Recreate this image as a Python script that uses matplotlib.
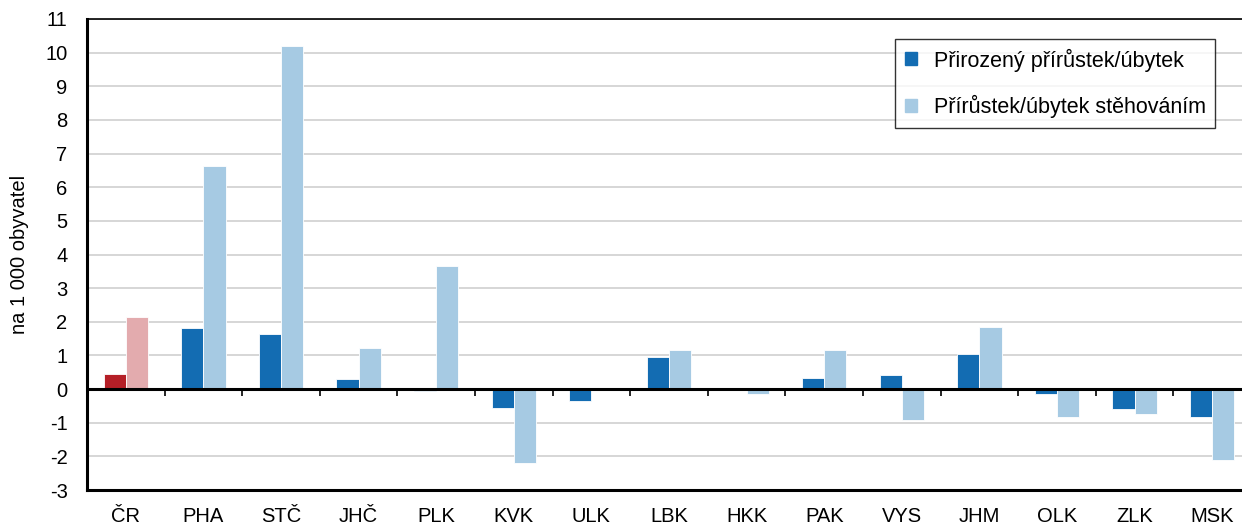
import numpy as np
import matplotlib.pyplot as plt

plt.rcParams['font.family'] = ['Liberation Sans', 'DejaVu Sans']
plt.rcParams['axes.unicode_minus'] = False

kraje = ['ČR', 'PHA', 'STČ', 'JHČ', 'PLK', 'KVK', 'ULK', 'LBK', 'HKK',
         'PAK', 'VYS', 'JHM', 'OLK', 'ZLK', 'MSK']
prirozeny = [0.45, 1.81, 1.64, 0.29, -0.07, -0.55, -0.36, 0.96, 0.0,
             0.32, 0.42, 1.03, -0.14, -0.58, -0.82]
stehovani = [2.15, 6.62, 10.20, 1.23, 3.67, -2.19, 0.0, 1.16, -0.15,
             1.16, -0.92, 1.85, -0.83, -0.73, -2.11]

c_nat = '#136cb2'
c_mig = '#a6cae3'
c_nat_cr = '#b51f27'
c_mig_cr = '#e3abae'

fs = 14.5

fig = plt.figure(figsize=(12.42, 5.24), dpi=100)
ax = fig.add_axes([87 / 1242, 34 / 524, 1164 / 1242, 471 / 524])

x = np.arange(len(kraje))
w = 0.285
cols_nat = [c_nat_cr] + [c_nat] * (len(kraje) - 1)
cols_mig = [c_mig_cr] + [c_mig] * (len(kraje) - 1)
ax.bar(x - w / 2, prirozeny, w, color=cols_nat, edgecolor='white', linewidth=0.6,
       zorder=3)
ax.bar(x + w / 2, stehovani, w, color=cols_mig, edgecolor='white', linewidth=0.6,
       zorder=3)

ax.set_xlim(-0.5, len(kraje) - 0.5)
ax.set_ylim(-3, 11)
ax.set_yticks(range(-3, 12))
ax.yaxis.grid(True, color='#d0d0d0', linewidth=1.2, zorder=0)
ax.set_axisbelow(True)

ax.axhline(0, color='black', linewidth=2.2, zorder=4)
bounds = x[:-1] + 0.5
ax.vlines(bounds, -0.2, 0, color='black', linewidth=1.2, zorder=4)

ax.set_xticks(x)
ax.set_xticklabels(kraje, fontsize=fs)
ax.tick_params(axis='x', length=0, pad=12)
ax.tick_params(axis='y', length=0, pad=14, labelsize=fs)

for s in ['left', 'bottom']:
    ax.spines[s].set_linewidth(2.2)
ax.spines['top'].set_linewidth(1.2)
ax.spines['right'].set_visible(False)

ax.set_ylabel('na 1 000 obyvatel', fontsize=fs, labelpad=12)

h1 = plt.Rectangle((0, 0), 1, 1, color=c_nat)
h2 = plt.Rectangle((0, 0), 1, 1, color=c_mig)
leg = ax.legend([h1, h2], ['Přirozený přírůstek/úbytek', 'Přírůstek/úbytek stěhováním'],
                loc='upper left', bbox_to_anchor=(808 / 1164, 0.958),
                fontsize=15.5, frameon=True, fancybox=False, edgecolor='black',
                handlelength=0.55, handleheight=0.55, handletextpad=0.8,
                labelspacing=1.1, borderpad=0.45, borderaxespad=0)
leg.get_frame().set_linewidth(1.0)

fig.savefig('out.png', dpi=100)
